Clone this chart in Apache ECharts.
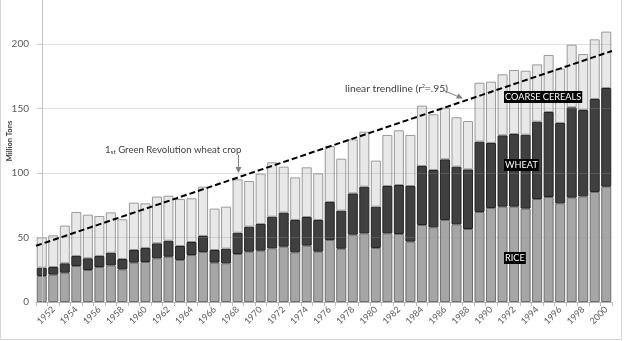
<!DOCTYPE html>
<html>
<head>
<meta charset="utf-8">
<script src="https://cdn.jsdelivr.net/npm/echarts@6/dist/echarts.min.js"></script>
<style>
html,body{margin:0;padding:0;background:#fff;}
#c{width:624px;height:341px;}
</style>
</head>
<body>
<div id="c"></div>
<script>
const years = [];
for (let y = 1951; y <= 2000; y++) years.push(String(y));

const rice = [20.2,21.2,22.7,27.9,24.8,27.1,28.4,25.3,30.5,31.0,
  33.9,35.1,32.6,36.4,38.8,30.5,30.0,37.2,39.0,39.8,
  41.6,42.9,38.5,43.7,39.0,48.1,41.3,52.2,53.2,41.9,
  53.2,52.7,46.8,59.7,57.9,63.6,60.2,56.6,69.8,72.9,
  73.9,73.9,72.4,79.8,81.4,76.5,80.9,81.9,85.3,89.4];
const wheat = [6.4,5.9,7.3,7.8,9.1,8.6,9.8,8.0,9.8,10.9,
  11.6,12.4,10.8,10.1,12.4,9.8,11.4,16.5,19.4,20.7,
  24.5,26.4,25.1,22.2,24.6,29.4,29.5,32.0,36.2,32.0,
  36.7,38.0,43.1,45.7,44.4,47.0,44.7,46.2,54.5,50.4,
  55.3,56.3,57.3,60.0,65.9,62.3,70.0,66.9,72.1,76.5];
const coarse = [23.5,24.6,29.2,34.1,33.8,31.0,31.3,30.8,36.7,34.6,
  36.2,34.9,36.4,33.9,38.2,32.1,32.5,41.4,35.4,39.0,
  42.2,35.6,33.0,38.5,36.1,43.4,40.3,41.9,42.6,35.7,
  39.6,42.4,39.6,46.8,43.2,40.0,38.3,37.5,45.7,47.5,
  47.3,49.6,49.6,44.4,44.2,42.1,48.6,43.4,46.2,43.7];
// trendline read at the left and right edges of the plot (category positions -0.5 and 49.5)
const trendX = [-0.5, 49.5];
const trendY = [43.6, 194.6];
const yTicks = [0, 50, 100, 150, 200];

const FONT = 'Lato, "Liberation Sans", sans-serif';

const chart = echarts.init(document.getElementById('c'));
chart.setOption({
  animation: false,
  backgroundColor: '#fff',
  textStyle: {fontFamily: FONT},
  grid: {left: 36, right: 12, top: -20.5, bottom: 39, containLabel: false, outerBoundsMode: 'none'},
  xAxis: [{
    type: 'category',
    data: years,
    boundaryGap: true,
    axisLine: {lineStyle: {color: '#bfbfbf'}},
    axisTick: {show: true, interval: 0, length: 4, lineStyle: {color: '#bfbfbf'}},
    axisLabel: {
      interval: function (i) { return i % 2 === 1; },
      rotate: 45, fontSize: 9, color: '#595959', margin: 6, fontFamily: FONT
    }
  }, {
    type: 'value', min: -0.5, max: 49.5, show: false
  }],
  yAxis: {
    type: 'value', min: 0, max: 250, interval: 50, z: 5,
    axisLine: {show: true, lineStyle: {color: '#bfbfbf'}},
    axisTick: {show: true, length: 3, lineStyle: {color: '#bfbfbf'}},
    axisLabel: {
      fontSize: 10, color: '#595959', margin: 7, fontFamily: FONT,
      formatter: function (v) { return yTicks.indexOf(v) >= 0 ? String(v) : ''; }
    },
    splitLine: {show: true, lineStyle: {color: 'rgba(150,150,150,0.3)', width: 1}}
  },
  series: [
    {name: 'RICE', type: 'bar', stack: 'g', data: rice, barCategoryGap: '13%',
      itemStyle: {color: '#a6a6a6', borderColor: '#6e6e6e', borderWidth: 1}},
    {name: 'WHEAT', type: 'bar', stack: 'g', data: wheat,
      itemStyle: {color: '#404040', borderColor: '#222', borderWidth: 1}},
    {name: 'COARSE CEREALS', type: 'bar', stack: 'g', data: coarse,
      itemStyle: {color: '#e8e8e8', borderColor: '#9a9a9a', borderWidth: 1}},
    {name: 'trend', type: 'line', xAxisIndex: 1, z: 10, symbol: 'none',
      data: trendX.map(function (x, i) { return [x, trendY[i]]; }),
      lineStyle: {color: '#000', width: 2, type: [6, 3]}}
  ],
  graphic: {elements: [
    {type: 'rect', z: 100, shape: {x: 0.5, y: -2, width: 621, height: 341.5},
      style: {fill: 'none', stroke: '#d4d4d4', lineWidth: 1}, silent: true},
    {type: 'text', z: 100, rotation: Math.PI / 2, x: 10, y: 141,
      style: {text: 'Million Tons', fontSize: 7.5, fontWeight: 'bold', fill: '#404040',
        fontFamily: FONT, align: 'center', verticalAlign: 'middle'}},
    {type: 'text', z: 100, x: 105, y: 150,
      style: {text: '1{s|st} Green Revolution wheat crop', fontSize: 9.6, fill: '#404040',
        fontFamily: FONT, verticalAlign: 'middle',
        rich: {s: {fontSize: 6.5, fill: '#404040', fontFamily: FONT, verticalAlign: 'bottom'}}}},
    {type: 'line', z: 100, shape: {x1: 238.5, y1: 155, x2: 238.5, y2: 171},
      style: {stroke: '#808080', lineWidth: 1}},
    {type: 'polygon', z: 100, shape: {points: [[235.5, 167], [241.5, 167], [238.5, 173]]},
      style: {fill: '#808080'}},
    {type: 'text', z: 100, x: 345, y: 89,
      style: {text: 'linear trendline (r{s|2}=.95)', fontSize: 10.3, fill: '#404040',
        fontFamily: FONT, verticalAlign: 'middle',
        rich: {s: {fontSize: 5, fill: '#404040', fontFamily: FONT, verticalAlign: 'top'}}}},
    {type: 'line', z: 100, shape: {x1: 443, y1: 90, x2: 459, y2: 97},
      style: {stroke: '#808080', lineWidth: 1}},
    {type: 'polygon', z: 100, shape: {points: [[456, 98.5], [458.5, 93.5], [463, 98.5]]},
      style: {fill: '#808080'}},
    {type: 'text', z: 100, x: 504, y: 97,
      style: {text: 'COARSE CEREALS', fontSize: 9.2, fill: '#fff', backgroundColor: '#000',
        padding: [2, 1, 1, 1], fontFamily: FONT, verticalAlign: 'middle'}},
    {type: 'text', z: 100, x: 504, y: 165,
      style: {text: 'WHEAT', fontSize: 9.2, fill: '#fff', backgroundColor: '#000',
        padding: [2, 1, 1, 1], fontFamily: FONT, verticalAlign: 'middle'}},
    {type: 'text', z: 100, x: 504, y: 258,
      style: {text: 'RICE', fontSize: 9.2, fill: '#fff', backgroundColor: '#000',
        padding: [2, 1, 1, 1], fontFamily: FONT, verticalAlign: 'middle'}}
  ]}
});
</script>
</body>
</html>
